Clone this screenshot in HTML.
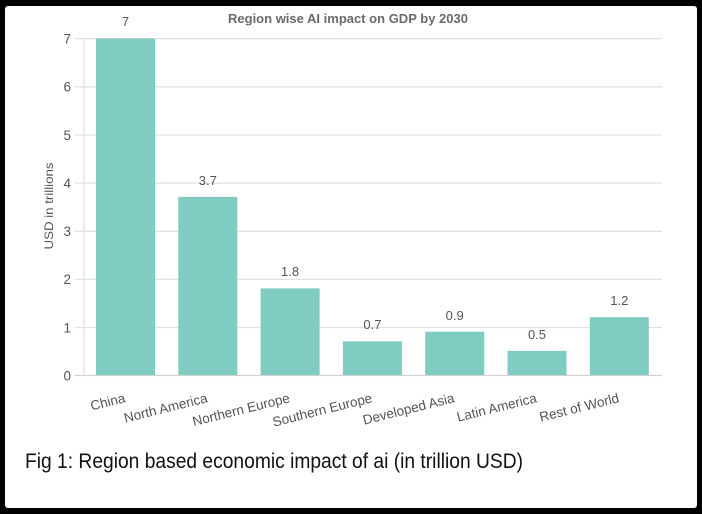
<!DOCTYPE html>
<html><head><meta charset="utf-8"><style>
html,body{margin:0;padding:0;background:#000;}
body{width:702px;height:514px;overflow:hidden;position:relative;}
svg{position:absolute;left:0;top:0;}
</style></head><body>
<svg width="702" height="514" viewBox="0 0 702 514" xmlns="http://www.w3.org/2000/svg">
<rect x="0" y="0" width="702" height="514" fill="#000"/>
<rect x="5" y="6" width="692" height="502" rx="3" fill="#fff"/>
<g font-family="Liberation Sans, sans-serif">
<!-- title -->
<text x="348" y="23" text-anchor="middle" font-size="13" font-weight="bold" fill="#6a6a6a" textLength="240" lengthAdjust="spacingAndGlyphs">Region wise AI impact on GDP by 2030</text>
<!-- gridlines -->
<g stroke="#e2e2e2" stroke-width="1.3">
<line x1="75" y1="38.7" x2="662" y2="38.7"/>
<line x1="75" y1="86.8" x2="662" y2="86.8"/>
<line x1="75" y1="135" x2="662" y2="135"/>
<line x1="75" y1="183.1" x2="662" y2="183.1"/>
<line x1="75" y1="231.3" x2="662" y2="231.3"/>
<line x1="75" y1="279.4" x2="662" y2="279.4"/>
<line x1="75" y1="327.5" x2="662" y2="327.5"/>
<line x1="84" y1="38" x2="84" y2="375"/>
</g>
<line x1="75" y1="375.5" x2="662" y2="375.5" stroke="#d2d2d2" stroke-width="1.3"/>
<!-- y tick labels -->
<g font-size="13.5" fill="#555" text-anchor="end">
<text x="71" y="43.5">7</text>
<text x="71" y="91.5">6</text>
<text x="71" y="140">5</text>
<text x="71" y="188">4</text>
<text x="71" y="236">3</text>
<text x="71" y="284">2</text>
<text x="71" y="332.5">1</text>
<text x="71" y="380.5">0</text>
</g>
<text transform="translate(53,206) rotate(-90)" text-anchor="middle" font-size="12" fill="#555" textLength="87" lengthAdjust="spacingAndGlyphs">USD in trillions</text>
<!-- bars -->
<g fill="#80cbc2">
<rect x="96" y="38.5" width="59" height="336.5"/>
<rect x="178.3" y="196.9" width="59" height="178.1"/>
<rect x="260.6" y="288.4" width="59" height="86.6"/>
<rect x="342.9" y="341.3" width="59" height="33.7"/>
<rect x="425.2" y="331.7" width="59" height="43.3"/>
<rect x="507.5" y="350.9" width="59" height="24.1"/>
<rect x="589.8" y="317.2" width="59" height="57.8"/>
</g>
<!-- value labels -->
<g font-size="13" fill="#555" text-anchor="middle">
<text x="125.5" y="26">7</text>
<text x="207.8" y="185">3.7</text>
<text x="290.1" y="276">1.8</text>
<text x="372.4" y="329">0.7</text>
<text x="454.7" y="320">0.9</text>
<text x="537" y="339">0.5</text>
<text x="619.3" y="305">1.2</text>
</g>
<!-- x labels -->
<g font-size="13.5" fill="#555" text-anchor="end">
<text transform="translate(126,402) rotate(-14)">China</text>
<text transform="translate(208.3,402) rotate(-14)">North America</text>
<text transform="translate(290.6,402) rotate(-14)">Northern Europe</text>
<text transform="translate(372.9,402) rotate(-14)">Southern Europe</text>
<text transform="translate(455.2,402) rotate(-14)">Developed Asia</text>
<text transform="translate(537.5,402) rotate(-14)">Latin America</text>
<text transform="translate(619.8,402) rotate(-14)">Rest of World</text>
</g>
<!-- caption -->
<text x="25" y="468" font-size="21" fill="#111" textLength="498" lengthAdjust="spacingAndGlyphs">Fig 1: Region based economic impact of ai (in trillion USD)</text>
</g>
</svg>
</body></html>
